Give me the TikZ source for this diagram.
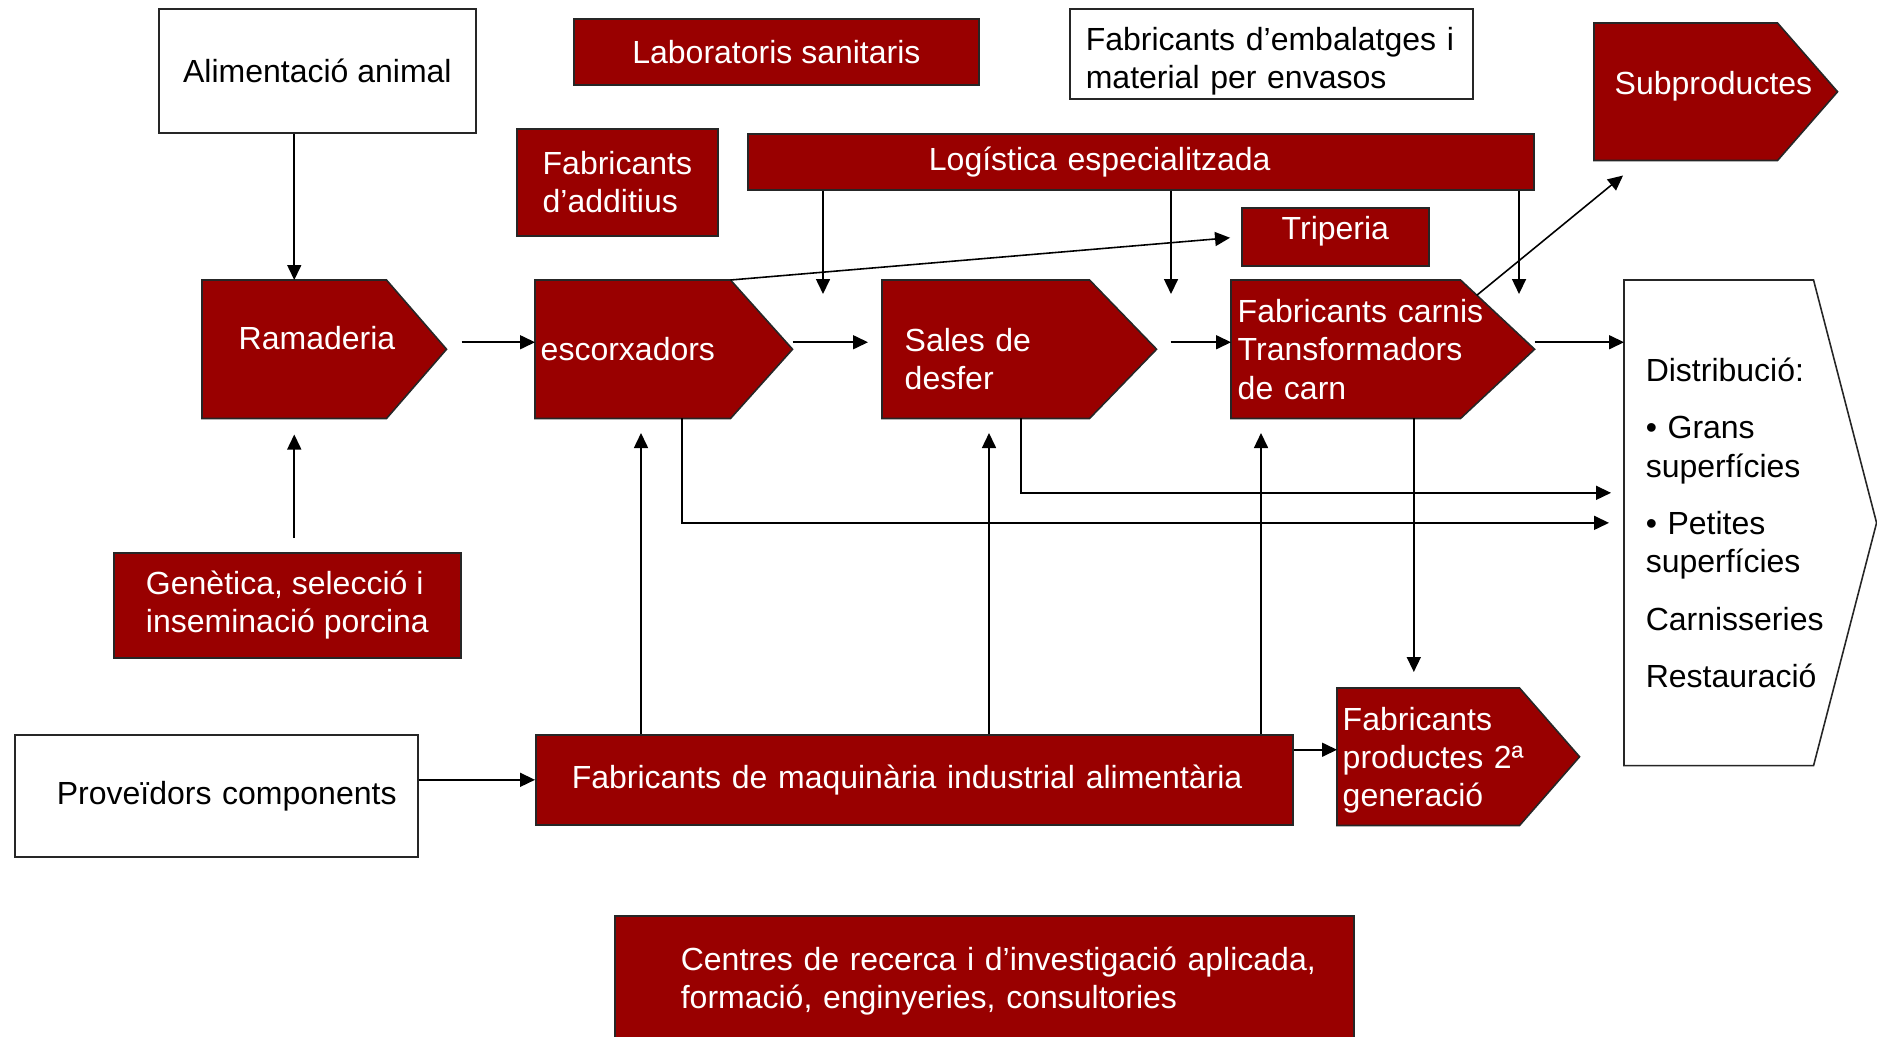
\documentclass[tikz,border=0pt]{standalone}
\usepackage{fontspec}
\setmainfont{Liberation Sans}
\usetikzlibrary{arrows.meta,backgrounds,calc}

\definecolor{brick}{RGB}{153,0,0}

% pointed body drawn behind a chevron node
\newcommand{\chevron}[3]{%
  \filldraw[boxedge, fill=#3] (#1.north west) -- (#1.north east)
    -- ([xshift=#2]#1.east) coordinate (#1-tip)
    -- (#1.south east) -- (#1.south west) -- cycle;}

\begin{document}
\begin{tikzpicture}[
    x=0.01cm, y=-0.01cm,
    every node/.style={font=\fontsize{9.1}{10.9}\selectfont},
    boxedge/.style={draw=black!85, line width=0.45pt},
    redbox/.style={rectangle, boxedge, fill=brick, text=white, anchor=north west, inner sep=0pt},
    whitebox/.style={rectangle, boxedge, fill=white, text=black, anchor=north west, inner sep=0pt},
    chev/.style={rectangle, anchor=north west, inner ysep=0pt, align=left, text=white},
    arrow/.style={line width=0.45pt, -{Triangle[length=0.15cm,width=0.14cm]}}
]
\useasboundingbox (0,0) rectangle (1877,1036);

% Suppliers on top
\node[whitebox, minimum width=3.17cm, minimum height=1.24cm] (alim) at (158,8) {Alimentació animal};
\node[redbox, minimum width=4.05cm, minimum height=0.66cm] (lab) at (573,18) {Laboratoris sanitaris};
\node[whitebox, minimum width=4.03cm, minimum height=0.90cm, inner xsep=0.16cm, text width=3.71cm, align=left, text height=0.38cm] (embal) at (1069,8) {Fabricants d’embalatges i\\material per envasos};
\node[chev, minimum width=1.82cm, minimum height=1.36cm, inner xsep=0.2cm, text width=1.42cm, text depth=0.17cm] (subprod) at (1594,23) {\mbox{Subproductes}};
\node[redbox, minimum width=2.01cm, minimum height=1.07cm, align=left] (addit) at (516,128) {Fabricants\\d’additius};
\node[redbox, minimum width=7.86cm, minimum height=0.56cm, inner xsep=1.81cm, text width=4.24cm, align=left] (logist) at (747,133) {Logística especialitzada};
\node[redbox, minimum width=1.87cm, minimum height=0.58cm, text depth=0.17cm] (trip) at (1241,207) {Triperia};

% Main chain
\node[chev, minimum width=1.83cm, minimum height=1.37cm, inner xsep=0.36cm, text width=1.11cm, text depth=0.22cm] (ram) at (202,280) {\mbox{Ramaderia}};
\node[chev, minimum width=1.94cm, minimum height=1.37cm, inner xsep=0.05cm, text width=1.84cm] (esc) at (535,280) {escorxadors};
\node[chev, minimum width=2.06cm, minimum height=1.37cm, inner xsep=0.22cm, text width=1.62cm, text height=0.43cm] (sales) at (882,280) {Sales de\\desfer};
\node[chev, minimum width=2.28cm, minimum height=1.37cm, inner xsep=0.06cm, text width=2.16cm] (carn) at (1231,280) {\mbox{Fabricants carnis}\\\mbox{Transformadors}\\de carn};
\node[chev, text=black, minimum width=1.88cm, minimum height=4.84cm, inner xsep=0.21cm, text width=1.46cm] (distr) at (1624,280) {%
    \mbox{Distribució:}\\[0.19cm]
    • Grans\\\mbox{superfícies}\\[0.19cm]
    • Petites\\\mbox{superfícies}\\[0.19cm]
    \mbox{Carnisseries}\\[0.19cm]
    \mbox{Restauració}};

% Lower row
\node[redbox, minimum width=3.47cm, minimum height=1.05cm, align=left] (gen) at (113,552) {Genètica, selecció i\\inseminació porcina};
\node[whitebox, minimum width=4.03cm, minimum height=1.22cm, inner xsep=0.42cm, text width=3.19cm, align=left] (prov) at (14,734) {\mbox{Proveïdors components}};
\node[redbox, minimum width=7.57cm, minimum height=0.90cm, inner xsep=0.36cm, text width=6.85cm, align=left] (maq) at (535,734) {Fabricants de maquinària industrial alimentària};
\node[chev, minimum width=1.81cm, minimum height=1.36cm, inner xsep=0.05cm, text width=1.71cm, text height=0.30cm] (prod2) at (1337,688) {Fabricants\\\mbox{productes 2ª}\\generació};
\node[redbox, minimum width=7.39cm, minimum height=1.30cm, inner xsep=0.66cm, text width=6.07cm, align=left] (centres) at (614,915) {\mbox{Centres de recerca i d’investigació aplicada,}\\\mbox{formació, enginyeries, consultories}};

% Pointed bodies
\begin{scope}[on background layer]
  \chevron{subprod}{0.60cm}{brick}
  \chevron{ram}{0.60cm}{brick}
  \chevron{esc}{0.62cm}{brick}
  \chevron{sales}{0.67cm}{brick}
  \chevron{carn}{0.74cm}{brick}
  \chevron{distr}{0.63cm}{white}
  \chevron{prod2}{0.60cm}{brick}
\end{scope}

% Arrow ends
\coordinate (drop1) at (823,294);
\coordinate (drop2) at (1171,294);
\coordinate (drop3) at (1519,294);
\coordinate (lift1) at (641,433);
\coordinate (lift2) at (989,433);
\coordinate (lift3) at (1261,433);

% Feeds into Ramaderia
\draw[arrow] (alim.south -| ram.north) -- (ram.north);
\draw[arrow, shorten <=0.14cm, shorten >=0.16cm] (gen.north -| ram.south) -- (ram.south);

% Main flow
\draw[arrow, shorten <=0.15cm] ([yshift=0.07cm]ram-tip) -- ([yshift=0.07cm]esc.west);
\draw[arrow, shorten >=0.14cm] ([yshift=0.07cm]esc-tip) -- ([yshift=0.07cm]sales.west);
\draw[arrow, shorten <=0.14cm] ([yshift=0.07cm]sales-tip) -- ([yshift=0.07cm]carn.west);
\draw[arrow] ([yshift=0.07cm]carn-tip) -- ([yshift=0.07cm]carn-tip -| distr.west);

% Side outputs
\draw[arrow, shorten >=0.11cm] (esc.north east) -- (trip.west);
\draw[arrow] ($(carn.north east)!0.22!(carn-tip)$) -- ([xshift=0.29cm,yshift=-0.15cm]subprod.south west);
\draw[arrow] ([xshift=0.49cm]esc.south) |- ([xshift=-0.15cm]distr.west);
\draw[arrow] ([xshift=0.35cm]sales.south) |- ([xshift=-0.13cm,yshift=0.30cm]distr.west);
\draw[arrow, shorten >=0.16cm] ([xshift=0.68cm]carn.south) -- ([xshift=0.68cm]carn.south |- prod2.north);

% Logistics and machinery
\foreach \d in {drop1,drop2,drop3}
  \draw[arrow] (logist.south -| \d) -- (\d);
\foreach \u in {lift1,lift2,lift3}
  \draw[arrow] (maq.north -| \u) -- (\u);
\draw[arrow] (prov.east |- maq.west) -- (maq.west);
\draw[arrow] ([yshift=0.07cm]prod2.west -| maq.east) -- ([yshift=0.07cm]prod2.west);

\end{tikzpicture}
\end{document}
